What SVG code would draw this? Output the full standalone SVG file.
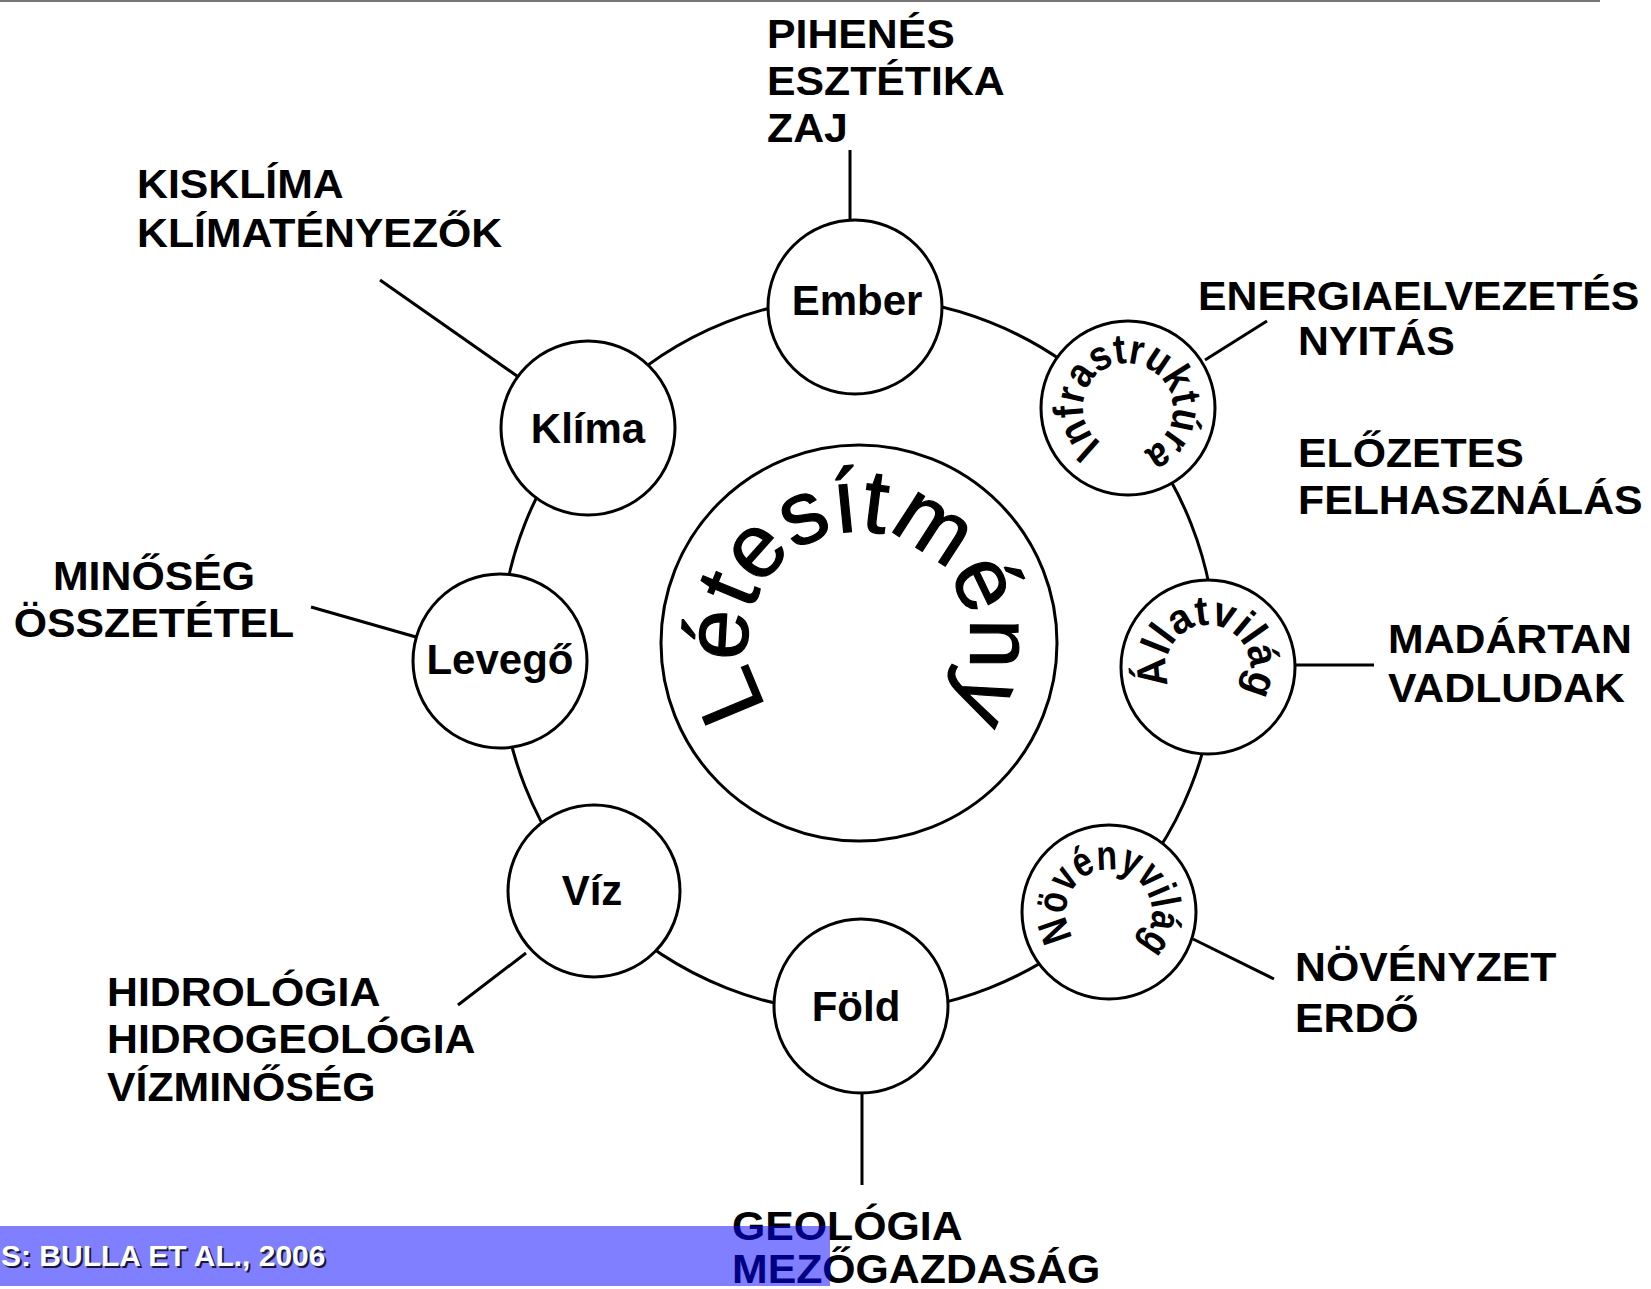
<svg xmlns="http://www.w3.org/2000/svg" xmlns:xlink="http://www.w3.org/1999/xlink" width="1651" height="1289" viewBox="0 0 1651 1289">
<style>
.ring{fill:none;stroke:#000;stroke-width:3}
.node{fill:#fff;stroke:#000;stroke-width:3}
.conn line{stroke:#000;stroke-width:3}
.nl{font-family:"Liberation Sans",Arial,sans-serif;font-weight:bold;font-size:42px;text-anchor:middle;fill:#000}
.lbl{font-family:"Liberation Sans",Arial,sans-serif;font-weight:bold;font-size:40px;fill:#000}
.arc{font-family:"Liberation Sans",Arial,sans-serif;font-weight:bold;font-size:42px;fill:#000}
.big{font-family:"Liberation Sans",Arial,sans-serif;font-size:90px;fill:#000;stroke:#000;stroke-width:1.2}
.ban{font-family:"Liberation Sans",Arial,sans-serif;font-weight:bold;font-size:30px}
</style>
<defs>
<path id="pBig" d="M 768.1 706.7 A 111 111 0 1 1 949.9 579.3 A 111 111 0 1 1 768.1 706.7"/>
<path id="pInfra" d="M 1101.5 443.1 A 44 44 0 1 1 1154.5 372.9 A 44 44 0 1 1 1101.5 443.1"/>
<path id="pAllat" d="M 1169.9 684.7 A 42 42 0 1 1 1246.1 649.3 A 42 42 0 1 1 1169.9 684.7"/>
<path id="pNoveny" d="M 1073.8 937.2 A 43 43 0 1 1 1144.2 887.8 A 43 43 0 1 1 1073.8 937.2"/>
</defs>
<rect width="1651" height="1289" fill="#fff"/>
<line x1="0" y1="1" x2="1600" y2="1" stroke="#777" stroke-width="2"/>

<circle class="ring" cx="858" cy="655" r="358"/>

<g id="connectors" class="conn">
<line x1="850" y1="150" x2="850" y2="221"/>
<line x1="380" y1="280" x2="517" y2="376"/>
<line x1="311" y1="607" x2="416" y2="637"/>
<line x1="458" y1="1005" x2="526" y2="953"/>
<line x1="862" y1="1093" x2="862" y2="1185"/>
<line x1="1205" y1="360" x2="1267" y2="321"/>
<line x1="1294" y1="665" x2="1374" y2="665"/>
<line x1="1193" y1="939" x2="1274" y2="979"/>
</g>

<g id="letesitmeny">
<circle class="node" cx="859" cy="643" r="198"/>
<text class="big"><textPath xlink:href="#pBig" href="#pBig" textLength="488" lengthAdjust="spacingAndGlyphs">Létesítmény</textPath></text>
</g>

<g id="ember">
<circle class="node" cx="855" cy="307" r="87"/>
<text class="nl" x="857" y="315">Ember</text>
</g>
<g id="klima">
<circle class="node" cx="588" cy="428" r="87"/>
<text class="nl" x="588" y="443">Klíma</text>
</g>
<g id="levego">
<circle class="node" cx="500" cy="661" r="87"/>
<text class="nl" x="500" y="674">Levegő</text>
</g>
<g id="viz">
<circle class="node" cx="594" cy="891" r="86"/>
<text class="nl" x="592" y="905">Víz</text>
</g>
<g id="fold">
<circle class="node" cx="861" cy="1006" r="87"/>
<text class="nl" x="856" y="1021">Föld</text>
</g>
<g id="infrastruktura">
<circle class="node" cx="1128" cy="408" r="87"/>
<text class="arc"><textPath xlink:href="#pInfra" href="#pInfra" textLength="237" lengthAdjust="spacingAndGlyphs">Infrastruktúra</textPath></text>
</g>
<g id="allatvilag">
<circle class="node" cx="1208" cy="667" r="87"/>
<text class="arc"><textPath xlink:href="#pAllat" href="#pAllat" textLength="176" lengthAdjust="spacingAndGlyphs">Állatvilág</textPath></text>
</g>
<g id="novenyvilag">
<circle class="node" cx="1109" cy="912" r="87"/>
<text class="arc"><textPath xlink:href="#pNoveny" href="#pNoveny" textLength="197" lengthAdjust="spacingAndGlyphs">Növényvilág</textPath></text>
</g>

<g id="labels">
<text class="lbl" transform="matrix(1.07 0 0 1 767 48)">PIHENÉS</text>
<text class="lbl" transform="matrix(1.07 0 0 1 767 95)">ESZTÉTIKA</text>
<text class="lbl" transform="matrix(1.07 0 0 1 767 142)">ZAJ</text>
<text class="lbl" transform="matrix(1.07 0 0 1 137 198)">KISKLÍMA</text>
<text class="lbl" transform="matrix(1.07 0 0 1 137 247)">KLÍMATÉNYEZŐK</text>
<text class="lbl" transform="matrix(1.07 0 0 1 1198 310)">ENERGIAELVEZETÉS</text>
<text class="lbl" transform="matrix(1.07 0 0 1 1298 355)">NYITÁS</text>
<text class="lbl" transform="matrix(1.07 0 0 1 1298 467)">ELŐZETES</text>
<text class="lbl" transform="matrix(1.07 0 0 1 1298 514)">FELHASZNÁLÁS</text>
<text class="lbl" text-anchor="middle" transform="matrix(1.07 0 0 1 154 590)">MINŐSÉG</text>
<text class="lbl" text-anchor="middle" transform="matrix(1.07 0 0 1 154 637)">ÖSSZETÉTEL</text>
<text class="lbl" transform="matrix(1.07 0 0 1 1388 653)">MADÁRTAN</text>
<text class="lbl" transform="matrix(1.07 0 0 1 1388 702)">VADLUDAK</text>
<text class="lbl" transform="matrix(1.07 0 0 1 1295 981)">NÖVÉNYZET</text>
<text class="lbl" transform="matrix(1.07 0 0 1 1295 1032)">ERDŐ</text>
<text class="lbl" transform="matrix(1.07 0 0 1 107 1006)">HIDROLÓGIA</text>
<text class="lbl" transform="matrix(1.07 0 0 1 107 1053)">HIDROGEOLÓGIA</text>
<text class="lbl" transform="matrix(1.07 0 0 1 107 1101)">VÍZMINŐSÉG</text>
<text class="lbl" transform="matrix(1.07 0 0 1 732 1240)">GEOLÓGIA</text>
<text class="lbl" transform="matrix(1.07 0 0 1 732 1283)">MEZŐGAZDASÁG</text>
</g>

<g id="banner">
<rect x="0" y="1226" width="830" height="60" fill="#0000ff" fill-opacity="0.5"/>
<text class="ban" x="3" y="1268" fill="#1a1a33">S: BULLA ET AL., 2006</text>
<text class="ban" x="1" y="1266" fill="#fff">S: BULLA ET AL., 2006</text>
</g>
</svg>
